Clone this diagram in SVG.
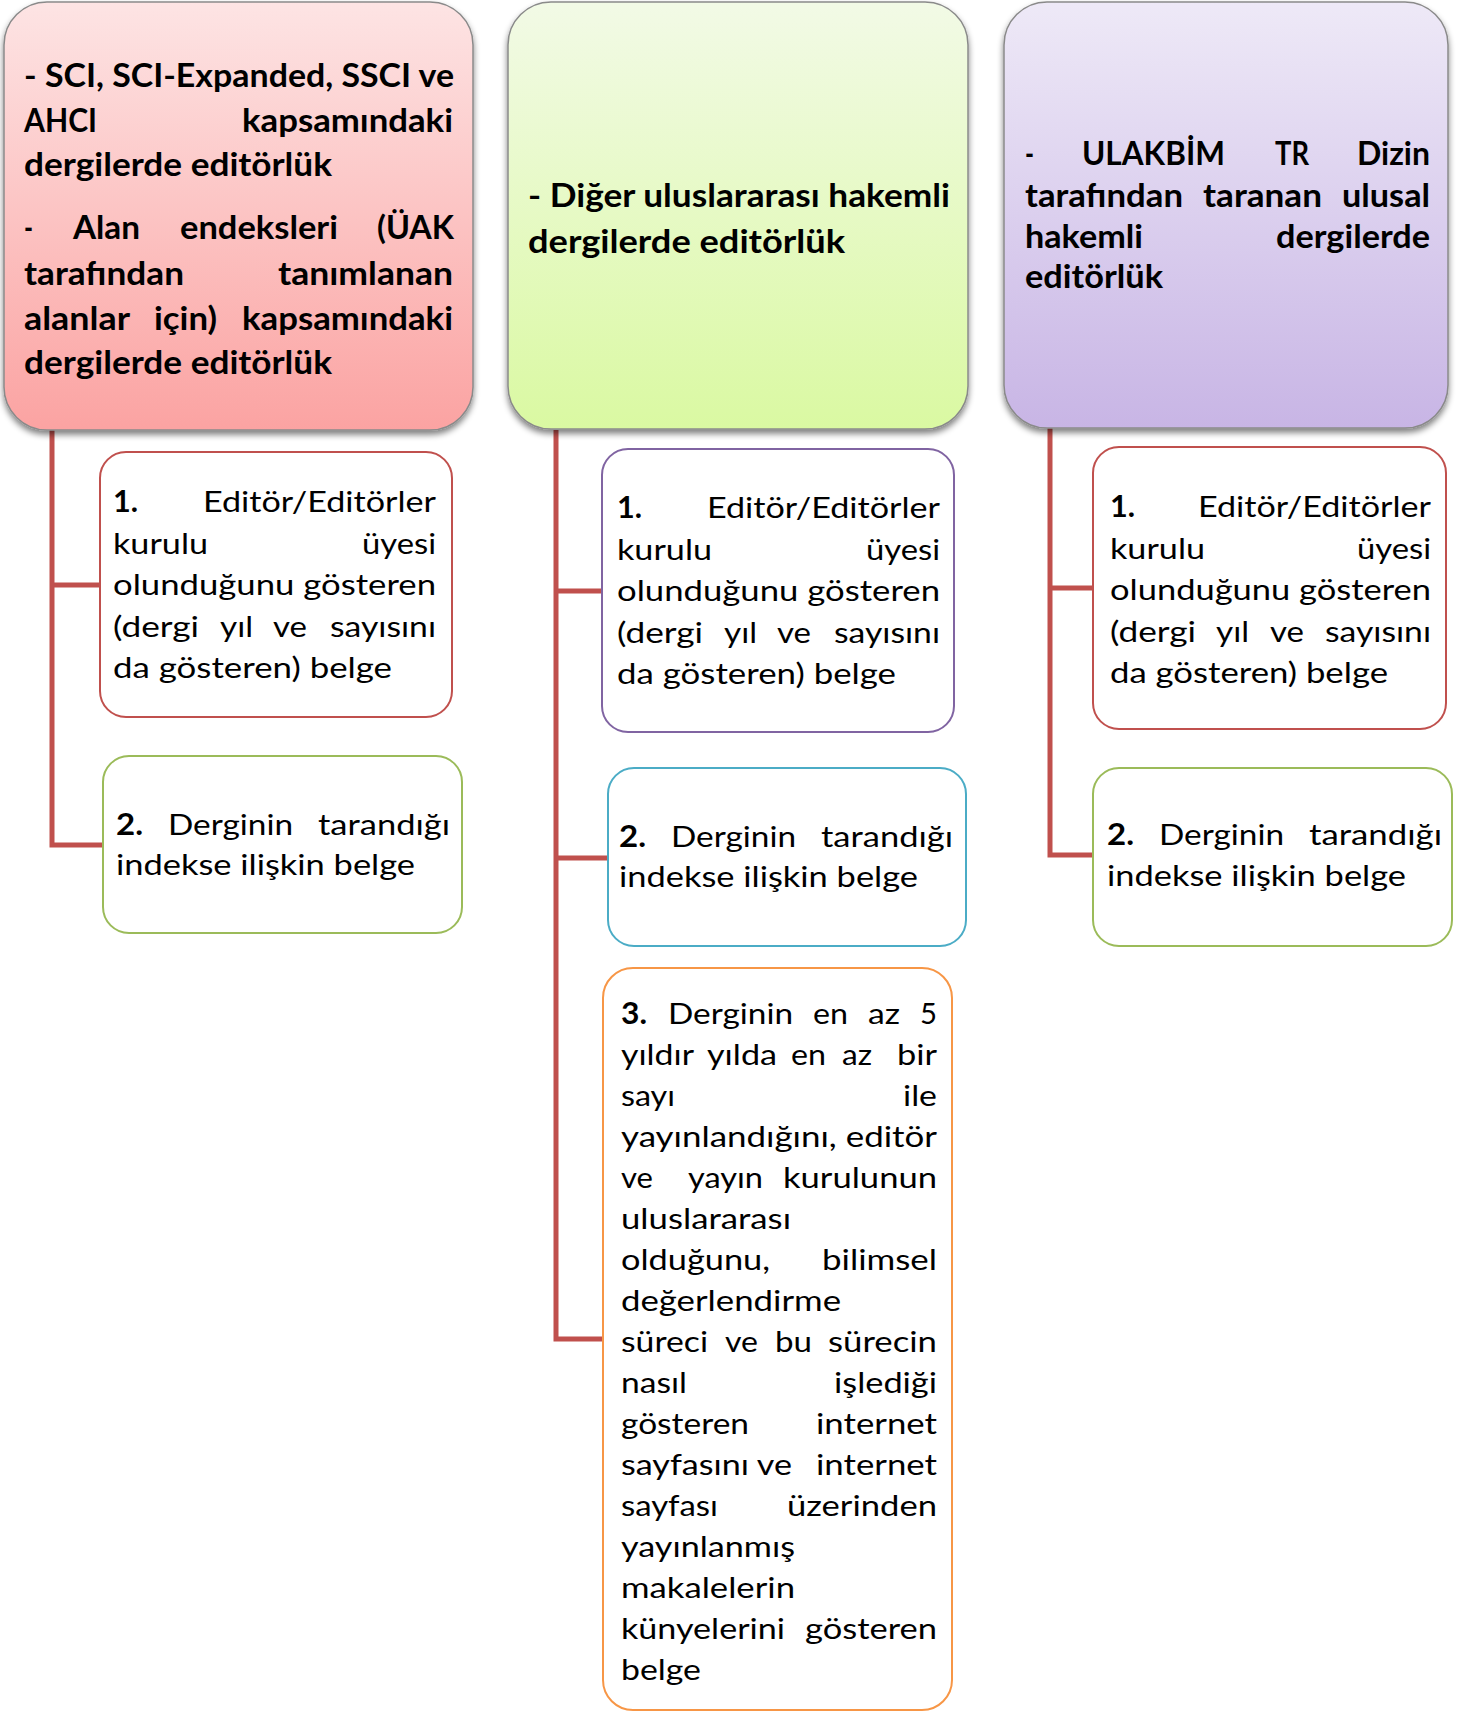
<svg xmlns="http://www.w3.org/2000/svg" width="1465" height="1713" viewBox="0 0 1465 1713">
<style>
.h{font-family:Lato,"Liberation Sans",sans-serif;font-weight:700;font-size:32px;fill:#000}
.t{font-family:Lato,"Liberation Sans",sans-serif;font-weight:400;font-size:29.5px;fill:#000}
.b{font-weight:700}
.top{stroke:#8a8a8a;stroke-width:1.5}
.child{fill:#fff;stroke-width:2}
.conn{fill:none;stroke:#C0504D;stroke-width:5;stroke-linejoin:miter}
</style>
<defs>
<linearGradient id="gRed" x1="0" y1="0" x2="0" y2="1"><stop offset="0" stop-color="#FDE4E4"/><stop offset="1" stop-color="#FBA3A2"/></linearGradient>
<linearGradient id="gGreen" x1="0" y1="0" x2="0" y2="1"><stop offset="0" stop-color="#F2FAE6"/><stop offset="1" stop-color="#DAF9A2"/></linearGradient>
<linearGradient id="gPurple" x1="0" y1="0" x2="0" y2="1"><stop offset="0" stop-color="#EEE9F7"/><stop offset="1" stop-color="#C8B5E5"/></linearGradient>
<filter id="sh" x="-5%" y="-5%" width="110%" height="112%"><feGaussianBlur in="SourceAlpha" stdDeviation="3"/><feOffset dy="4" result="o"/><feComponentTransfer><feFuncA type="linear" slope="0.5"/></feComponentTransfer><feMerge><feMergeNode/><feMergeNode in="SourceGraphic"/></feMerge></filter>
</defs>

<g id="connectors">
<path class="conn" d="M52 430 V845 H103 M52 585 H100"/>
<path class="conn" d="M556 430 V1339 H603 M556 591 H602 M556 858 H608"/>
<path class="conn" d="M1050 428 V855 H1093 M1050 588 H1093"/>
</g>

<g id="top1">
<rect class="top" x="4" y="2" width="469" height="428" rx="43" fill="url(#gRed)" filter="url(#sh)"/>
<text class="h" x="24" y="87" textLength="430" lengthAdjust="spacingAndGlyphs">- SCI, SCI-Expanded, SSCI ve</text>
<text class="h" x="24" y="132" textLength="73" lengthAdjust="spacingAndGlyphs">AHCI</text>
<text class="h" x="242" y="132" textLength="211" lengthAdjust="spacingAndGlyphs">kapsamındaki</text>
<text class="h" x="24" y="176" textLength="308" lengthAdjust="spacingAndGlyphs">dergilerde editörlük</text>
<text class="h" x="24" y="239" textLength="9" lengthAdjust="spacingAndGlyphs">-</text>
<text class="h" x="73" y="239" textLength="67" lengthAdjust="spacingAndGlyphs">Alan</text>
<text class="h" x="180" y="239" textLength="158" lengthAdjust="spacingAndGlyphs">endeksleri</text>
<text class="h" x="377" y="239" textLength="77" lengthAdjust="spacingAndGlyphs">(ÜAK</text>
<text class="h" x="24" y="285" textLength="160" lengthAdjust="spacingAndGlyphs">tarafından</text>
<text class="h" x="278" y="285" textLength="175" lengthAdjust="spacingAndGlyphs">tanımlanan</text>
<text class="h" x="24" y="330" textLength="106" lengthAdjust="spacingAndGlyphs">alanlar</text>
<text class="h" x="154" y="330" textLength="63" lengthAdjust="spacingAndGlyphs">için)</text>
<text class="h" x="242" y="330" textLength="211" lengthAdjust="spacingAndGlyphs">kapsamındaki</text>
<text class="h" x="24" y="374" textLength="308" lengthAdjust="spacingAndGlyphs">dergilerde editörlük</text>
</g>

<g id="top2">
<rect class="top" x="508" y="2" width="460" height="427" rx="43" fill="url(#gGreen)" filter="url(#sh)"/>
<text class="h" x="528" y="207" textLength="422" lengthAdjust="spacingAndGlyphs">- Diğer uluslararası hakemli</text>
<text class="h" x="528" y="253" textLength="317" lengthAdjust="spacingAndGlyphs">dergilerde  editörlük</text>
</g>

<g id="top3">
<rect class="top" x="1004" y="2" width="444" height="426" rx="43" fill="url(#gPurple)" filter="url(#sh)"/>
<text class="h" x="1025" y="165" textLength="9" lengthAdjust="spacingAndGlyphs">-</text>
<text class="h" x="1082" y="165" textLength="143" lengthAdjust="spacingAndGlyphs">ULAKBİM</text>
<text class="h" x="1275" y="165" textLength="34" lengthAdjust="spacingAndGlyphs">TR</text>
<text class="h" x="1357" y="165" textLength="73" lengthAdjust="spacingAndGlyphs">Dizin</text>
<text class="h" x="1025" y="207" textLength="158" lengthAdjust="spacingAndGlyphs">tarafından</text>
<text class="h" x="1203" y="207" textLength="119" lengthAdjust="spacingAndGlyphs">taranan</text>
<text class="h" x="1342" y="207" textLength="88" lengthAdjust="spacingAndGlyphs">ulusal</text>
<text class="h" x="1025" y="248" textLength="118" lengthAdjust="spacingAndGlyphs">hakemli</text>
<text class="h" x="1276" y="248" textLength="154" lengthAdjust="spacingAndGlyphs">dergilerde</text>
<text class="h" x="1025" y="288" textLength="138" lengthAdjust="spacingAndGlyphs">editörlük</text>
</g>

<g id="c1-1">
<rect class="child" x="100" y="452" width="352" height="265" rx="26" stroke="#C0504D"/>
<g transform="translate(113,512)">
<text class="t b" x="0" y="0" textLength="25" lengthAdjust="spacingAndGlyphs">1.</text>
<text class="t" x="90" y="0" textLength="233" lengthAdjust="spacingAndGlyphs">Editör/Editörler</text>
<text class="t" x="0" y="41.5" textLength="95" lengthAdjust="spacingAndGlyphs">kurulu</text>
<text class="t" x="249" y="41.5" textLength="74" lengthAdjust="spacingAndGlyphs">üyesi</text>
<text class="t" x="0" y="83" textLength="323" lengthAdjust="spacingAndGlyphs">olunduğunu gösteren</text>
<text class="t" x="0" y="124.5" textLength="86" lengthAdjust="spacingAndGlyphs">(dergi</text>
<text class="t" x="107" y="124.5" textLength="33" lengthAdjust="spacingAndGlyphs">yıl</text>
<text class="t" x="160" y="124.5" textLength="34" lengthAdjust="spacingAndGlyphs">ve</text>
<text class="t" x="217" y="124.5" textLength="106" lengthAdjust="spacingAndGlyphs">sayısını</text>
<text class="t" x="0" y="166" textLength="279" lengthAdjust="spacingAndGlyphs">da gösteren) belge</text>
</g>
</g>

<g id="c1-2">
<rect class="child" x="103" y="756" width="359" height="177" rx="26" stroke="#9BBB59"/>
<g transform="translate(116,835)">
<text class="t b" x="0" y="0" textLength="27" lengthAdjust="spacingAndGlyphs">2.</text>
<text class="t" x="52" y="0" textLength="125" lengthAdjust="spacingAndGlyphs">Derginin</text>
<text class="t" x="202" y="0" textLength="132" lengthAdjust="spacingAndGlyphs">tarandığı</text>
<text class="t" x="0" y="40" textLength="299" lengthAdjust="spacingAndGlyphs">indekse ilişkin belge</text>
</g>
</g>

<g id="c2-1">
<rect class="child" x="602" y="449" width="352" height="283" rx="26" stroke="#8064A2"/>
<g transform="translate(617,518)">
<text class="t b" x="0" y="0" textLength="25" lengthAdjust="spacingAndGlyphs">1.</text>
<text class="t" x="90" y="0" textLength="233" lengthAdjust="spacingAndGlyphs">Editör/Editörler</text>
<text class="t" x="0" y="41.5" textLength="95" lengthAdjust="spacingAndGlyphs">kurulu</text>
<text class="t" x="249" y="41.5" textLength="74" lengthAdjust="spacingAndGlyphs">üyesi</text>
<text class="t" x="0" y="83" textLength="323" lengthAdjust="spacingAndGlyphs">olunduğunu gösteren</text>
<text class="t" x="0" y="124.5" textLength="86" lengthAdjust="spacingAndGlyphs">(dergi</text>
<text class="t" x="107" y="124.5" textLength="33" lengthAdjust="spacingAndGlyphs">yıl</text>
<text class="t" x="160" y="124.5" textLength="34" lengthAdjust="spacingAndGlyphs">ve</text>
<text class="t" x="217" y="124.5" textLength="106" lengthAdjust="spacingAndGlyphs">sayısını</text>
<text class="t" x="0" y="166" textLength="279" lengthAdjust="spacingAndGlyphs">da gösteren) belge</text>
</g>
</g>

<g id="c2-2">
<rect class="child" x="608" y="768" width="358" height="178" rx="26" stroke="#4BACC6"/>
<g transform="translate(619,847)">
<text class="t b" x="0" y="0" textLength="27" lengthAdjust="spacingAndGlyphs">2.</text>
<text class="t" x="52" y="0" textLength="125" lengthAdjust="spacingAndGlyphs">Derginin</text>
<text class="t" x="202" y="0" textLength="132" lengthAdjust="spacingAndGlyphs">tarandığı</text>
<text class="t" x="0" y="40" textLength="299" lengthAdjust="spacingAndGlyphs">indekse ilişkin belge</text>
</g>
</g>

<g id="c2-3">
<rect class="child" x="603" y="968" width="349" height="742" rx="30" stroke="#F79646"/>
<g transform="translate(621,1024)">
<text class="t b" x="0" y="0" textLength="26" lengthAdjust="spacingAndGlyphs">3.</text>
<text class="t" x="47" y="0" textLength="125" lengthAdjust="spacingAndGlyphs">Derginin</text>
<text class="t" x="192" y="0" textLength="35" lengthAdjust="spacingAndGlyphs">en</text>
<text class="t" x="247" y="0" textLength="32" lengthAdjust="spacingAndGlyphs">az</text>
<text class="t" x="299" y="0" textLength="17" lengthAdjust="spacingAndGlyphs">5</text>
<text class="t" x="0" y="41" textLength="73" lengthAdjust="spacingAndGlyphs">yıldır</text>
<text class="t" x="86" y="41" textLength="70" lengthAdjust="spacingAndGlyphs">yılda</text>
<text class="t" x="170" y="41" textLength="35" lengthAdjust="spacingAndGlyphs">en</text>
<text class="t" x="221" y="41" textLength="30" lengthAdjust="spacingAndGlyphs">az</text>
<text class="t" x="276" y="41" textLength="40" lengthAdjust="spacingAndGlyphs">bir</text>
<text class="t" x="0" y="82" textLength="54" lengthAdjust="spacingAndGlyphs">sayı</text>
<text class="t" x="282" y="82" textLength="34" lengthAdjust="spacingAndGlyphs">ile</text>
<text class="t" x="0" y="123" textLength="316" lengthAdjust="spacingAndGlyphs">yayınlandığını, editör</text>
<text class="t" x="0" y="164" textLength="32" lengthAdjust="spacingAndGlyphs">ve</text>
<text class="t" x="67" y="164" textLength="75" lengthAdjust="spacingAndGlyphs">yayın</text>
<text class="t" x="162" y="164" textLength="154" lengthAdjust="spacingAndGlyphs">kurulunun</text>
<text class="t" x="0" y="205" textLength="170" lengthAdjust="spacingAndGlyphs">uluslararası</text>
<text class="t" x="0" y="246" textLength="149" lengthAdjust="spacingAndGlyphs">olduğunu,</text>
<text class="t" x="201" y="246" textLength="115" lengthAdjust="spacingAndGlyphs">bilimsel</text>
<text class="t" x="0" y="287" textLength="220" lengthAdjust="spacingAndGlyphs">değerlendirme</text>
<text class="t" x="0" y="328" textLength="87" lengthAdjust="spacingAndGlyphs">süreci</text>
<text class="t" x="104" y="328" textLength="33" lengthAdjust="spacingAndGlyphs">ve</text>
<text class="t" x="154" y="328" textLength="37" lengthAdjust="spacingAndGlyphs">bu</text>
<text class="t" x="207" y="328" textLength="109" lengthAdjust="spacingAndGlyphs">sürecin</text>
<text class="t" x="0" y="369" textLength="66" lengthAdjust="spacingAndGlyphs">nasıl</text>
<text class="t" x="213" y="369" textLength="103" lengthAdjust="spacingAndGlyphs">işlediği</text>
<text class="t" x="0" y="410" textLength="128" lengthAdjust="spacingAndGlyphs">gösteren</text>
<text class="t" x="195" y="410" textLength="121" lengthAdjust="spacingAndGlyphs">internet</text>
<text class="t" x="0" y="451" textLength="171" lengthAdjust="spacingAndGlyphs">sayfasını ve</text>
<text class="t" x="195" y="451" textLength="121" lengthAdjust="spacingAndGlyphs">internet</text>
<text class="t" x="0" y="492" textLength="97" lengthAdjust="spacingAndGlyphs">sayfası</text>
<text class="t" x="166" y="492" textLength="150" lengthAdjust="spacingAndGlyphs">üzerinden</text>
<text class="t" x="0" y="533" textLength="174" lengthAdjust="spacingAndGlyphs">yayınlanmış</text>
<text class="t" x="0" y="574" textLength="174" lengthAdjust="spacingAndGlyphs">makalelerin</text>
<text class="t" x="0" y="615" textLength="164" lengthAdjust="spacingAndGlyphs">künyelerini</text>
<text class="t" x="184" y="615" textLength="132" lengthAdjust="spacingAndGlyphs">gösteren</text>
<text class="t" x="0" y="656" textLength="80" lengthAdjust="spacingAndGlyphs">belge</text>
</g>
</g>

<g id="c3-1">
<rect class="child" x="1093" y="447" width="353" height="282" rx="26" stroke="#C0504D"/>
<g transform="translate(1110,517)">
<text class="t b" x="0" y="0" textLength="25" lengthAdjust="spacingAndGlyphs">1.</text>
<text class="t" x="88" y="0" textLength="233" lengthAdjust="spacingAndGlyphs">Editör/Editörler</text>
<text class="t" x="0" y="41.5" textLength="95" lengthAdjust="spacingAndGlyphs">kurulu</text>
<text class="t" x="247" y="41.5" textLength="74" lengthAdjust="spacingAndGlyphs">üyesi</text>
<text class="t" x="0" y="83" textLength="321" lengthAdjust="spacingAndGlyphs">olunduğunu gösteren</text>
<text class="t" x="0" y="124.5" textLength="86" lengthAdjust="spacingAndGlyphs">(dergi</text>
<text class="t" x="106" y="124.5" textLength="33" lengthAdjust="spacingAndGlyphs">yıl</text>
<text class="t" x="160" y="124.5" textLength="34" lengthAdjust="spacingAndGlyphs">ve</text>
<text class="t" x="215" y="124.5" textLength="106" lengthAdjust="spacingAndGlyphs">sayısını</text>
<text class="t" x="0" y="166" textLength="278" lengthAdjust="spacingAndGlyphs">da gösteren) belge</text>
</g>
</g>

<g id="c3-2">
<rect class="child" x="1093" y="768" width="359" height="178" rx="26" stroke="#9BBB59"/>
<g transform="translate(1107,845)">
<text class="t b" x="0" y="0" textLength="27" lengthAdjust="spacingAndGlyphs">2.</text>
<text class="t" x="52" y="0" textLength="125" lengthAdjust="spacingAndGlyphs">Derginin</text>
<text class="t" x="202" y="0" textLength="133" lengthAdjust="spacingAndGlyphs">tarandığı</text>
<text class="t" x="0" y="41" textLength="299" lengthAdjust="spacingAndGlyphs">indekse ilişkin belge</text>
</g>
</g>
</svg>
